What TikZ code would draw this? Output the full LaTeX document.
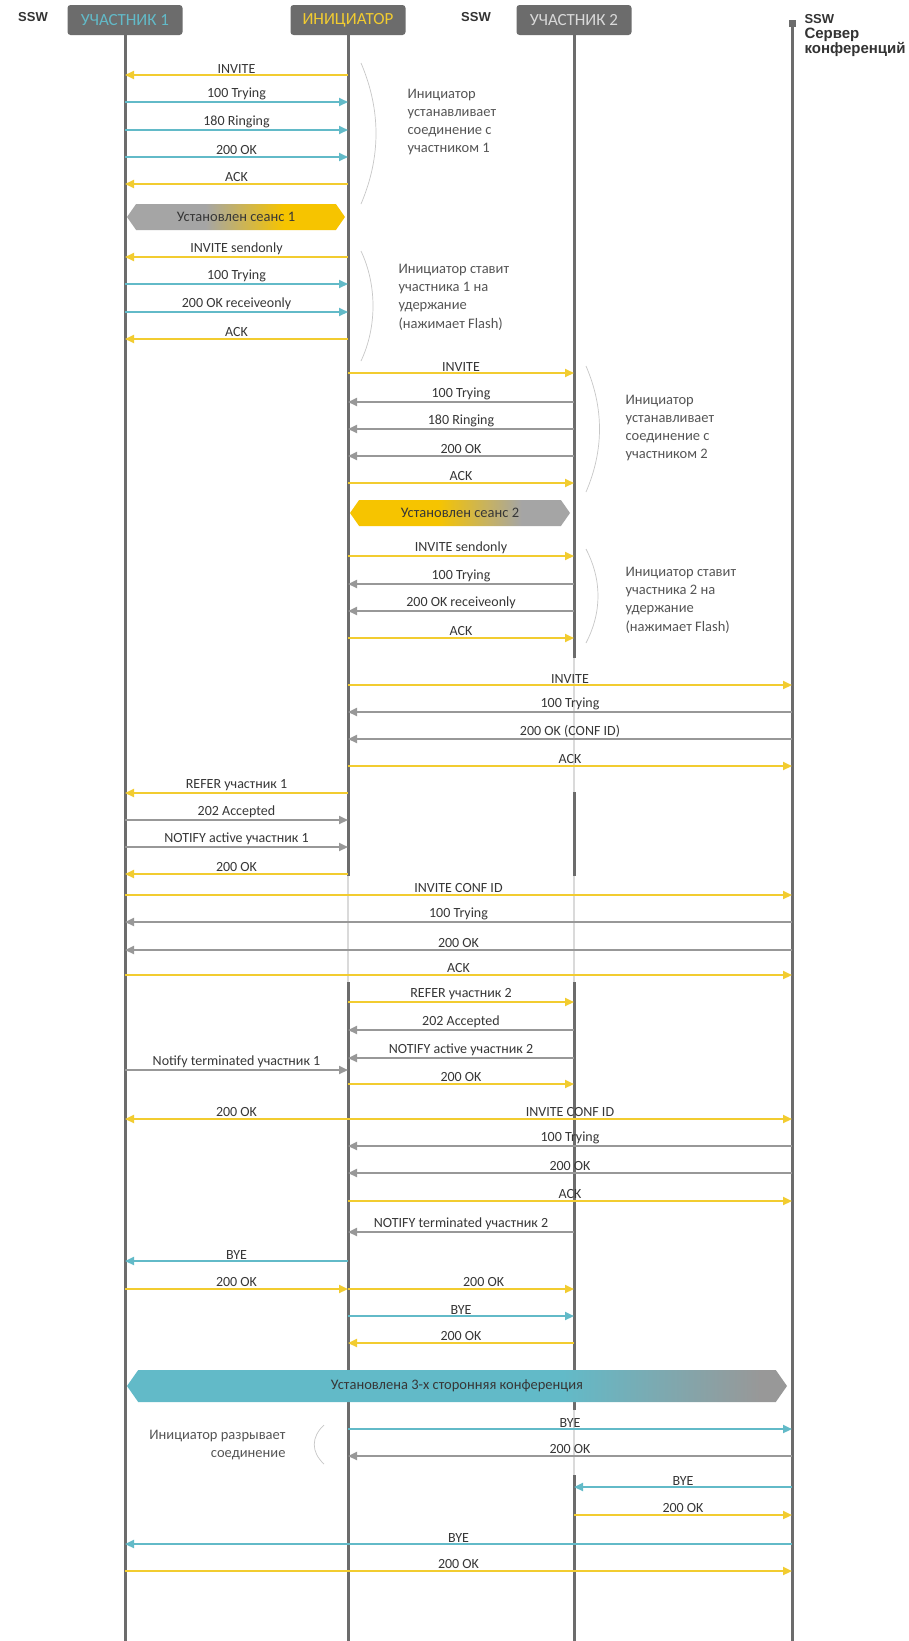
\documentclass[tikz,border=0pt]{standalone}
\usepackage{fontspec}
\setmainfont{Carlito}
\newfontfamily\sswfont{Liberation Sans}
\usetikzlibrary{arrows.meta,positioning,shapes.symbols}
\definecolor{sipyellow}{RGB}{242,204,48}
\definecolor{baryellow}{RGB}{246,196,0}
\definecolor{sipteal}{RGB}{98,186,200}
\definecolor{sipgray}{RGB}{152,152,152}
\definecolor{bargray}{RGB}{165,165,165}
\definecolor{lifegray}{RGB}{108,108,108}
\definecolor{fadegray}{RGB}{218,218,218}
\definecolor{boxgray}{RGB}{108,108,108}
\definecolor{txtgray}{RGB}{55,55,55}
\definecolor{notegray}{RGB}{85,85,85}
\pgfdeclarehorizontalshading{sesone}{100bp}{color(0bp)=(bargray); color(43bp)=(bargray); color(61bp)=(baryellow); color(100bp)=(baryellow)}
\pgfdeclarehorizontalshading{sestwo}{100bp}{color(0bp)=(baryellow); color(45bp)=(baryellow); color(64bp)=(bargray); color(100bp)=(bargray)}
\pgfdeclarehorizontalshading{confbar}{100bp}{color(0bp)=(sipteal); color(58bp)=(sipteal); color(73bp)=(sipgray); color(100bp)=(sipgray)}

\begin{document}
\begin{tikzpicture}[x=1pt,y=-1pt,
  head/.style={fill=boxgray,rounded corners=3pt,minimum width=115pt,minimum height=30pt,inner sep=0pt,font=\fontsize{17}{17}\selectfont},
  ssw/.style={text=black!80,font=\sswfont\fontsize{13}{14.5}\selectfont\bfseries},
  life/.style={lifegray,line width=3pt},
  fade/.style={fadegray,line width=2.2pt},
  msg/.style={line width=2pt,-{Triangle[length=9pt,width=8pt]}},
  msgy/.style={msg,sipyellow},
  msgt/.style={msg,sipteal},
  msgg/.style={msg,sipgray},
  lbl/.style={midway,above=0pt,inner sep=1pt,text=txtgray,font=\fontsize{14}{14}\selectfont},
  note/.style={align=left,text=notegray,font=\fontsize{14.5}{18.3}\selectfont},
  brace/.style={black!22,line width=0.7pt},
  bar/.style={shape=signal,signal to=west and east,signal pointer angle=110,minimum height=26pt,inner sep=0pt,text=txtgray,font=\fontsize{14.5}{14.5}\selectfont}]
\fill[white] (0,0) rectangle (908,1641);
\useasboundingbox (0,0) rectangle (908,1641);

% heads
\node[ssw] (ssw1) at (33,17) {SSW};
\node[ssw] (ssw2) at (476,17) {SSW};
\node[head,text=sipteal] (p1) at (125,20) {УЧАСТНИК 1};
\node[head,text=sipyellow] (init) at (348,20) {ИНИЦИАТОР};
\node[head,text=white!85!black] (p2) at (574,20) {УЧАСТНИК 2};
\node[fill=lifegray,minimum size=7pt,inner sep=0pt] (srv) at (792,23) {};
\node[ssw,align=left,anchor=north west,font=\sswfont\fontsize{13}{15}\selectfont\bfseries] (ssw3) at (801,11) {SSW\\{\fontsize{15}{15}\selectfont Сервер}\\{\fontsize{15}{15}\selectfont конференций}};

% lifelines
\draw[life] (p1.south) -- (p1 |- 0,1641);
\draw[life] (init.south) -- (init |- 0,876);
\draw[fade] (init |- 0,876) -- (init |- 0,982);
\draw[life] (init |- 0,982) -- (init |- 0,1641);
\draw[life] (p2.south) -- (p2 |- 0,658);
\draw[fade] (p2 |- 0,658) -- (p2 |- 0,792);
\draw[life] (p2 |- 0,792) -- (p2 |- 0,876);
\draw[fade] (p2 |- 0,876) -- (p2 |- 0,982);
\draw[life] (p2 |- 0,982) -- (p2 |- 0,1410);
\draw[fade] (p2 |- 0,1410) -- (p2 |- 0,1475);
\draw[life] (p2 |- 0,1475) -- (p2 |- 0,1641);
\draw[life] (srv) -- (srv |- 0,1641);

% session 1
\draw[msgy] (init |- 0,75) -- (p1 |- 0,75) node[lbl]{INVITE};
\draw[msgt] (p1 |- 0,102) -- (init |- 0,102) node[lbl]{100 Trying};
\draw[msgt] (p1 |- 0,130) -- (init |- 0,130) node[lbl]{180 Ringing};
\draw[msgt] (p1 |- 0,157) -- (init |- 0,157) node[lbl]{200 OK};
\draw[msgy] (init |- 0,184) -- (p1 |- 0,184) node[lbl]{ACK};
\draw[brace] (361,63) .. controls (381,110) and (381,157) .. (361,204);
\node[note,anchor=west] (n1) at (404,122) {Инициатор\\устанавливает\\соединение с\\участником 1};
\node[bar,shading=sesone,minimum width=218pt] (s1) at (236,217) {Установлен сеанс 1};

\draw[msgy] (init |- 0,257) -- (p1 |- 0,257) node[lbl]{INVITE sendonly};
\draw[msgt] (p1 |- 0,284) -- (init |- 0,284) node[lbl]{100 Trying};
\draw[msgt] (p1 |- 0,312) -- (init |- 0,312) node[lbl]{200 OK receiveonly};
\draw[msgy] (init |- 0,339) -- (p1 |- 0,339) node[lbl]{ACK};
\draw[brace] (361,251) .. controls (377,285) and (377,327) .. (361,361);
\node[note,anchor=west] (n2) at (395,297) {Инициатор ставит\\участника 1 на\\удержание\\(нажимает Flash)};

% session 2
\draw[msgy] (init |- 0,373) -- (p2 |- 0,373) node[lbl]{INVITE};
\draw[msgg] (p2 |- 0,402) -- (init |- 0,402) node[lbl]{100 Trying};
\draw[msgg] (p2 |- 0,429) -- (init |- 0,429) node[lbl]{180 Ringing};
\draw[msgg] (p2 |- 0,456) -- (init |- 0,456) node[lbl]{200 OK};
\draw[msgy] (init |- 0,483) -- (p2 |- 0,483) node[lbl]{ACK};
\draw[brace] (586,366) .. controls (604,408) and (604,450) .. (586,492);
\node[note,anchor=west] (n3) at (622,428) {Инициатор\\устанавливает\\соединение с\\участником 2};
\node[bar,shading=sestwo,minimum width=220pt] (s2) at (460,513) {Установлен сеанс 2};

\draw[msgy] (init |- 0,556) -- (p2 |- 0,556) node[lbl]{INVITE sendonly};
\draw[msgg] (p2 |- 0,584) -- (init |- 0,584) node[lbl]{100 Trying};
\draw[msgg] (p2 |- 0,611) -- (init |- 0,611) node[lbl]{200 OK receiveonly};
\draw[msgy] (init |- 0,638) -- (p2 |- 0,638) node[lbl]{ACK};
\draw[brace] (586,549) .. controls (602,580) and (602,612) .. (586,643);
\node[note,anchor=west] (n4) at (622,600) {Инициатор ставит\\участника 2 на\\удержание\\(нажимает Flash)};

% conference
\draw[msgy] (init |- 0,685) -- (srv |- 0,685) node[lbl]{INVITE};
\draw[msgg] (srv |- 0,712) -- (init |- 0,712) node[lbl]{100 Trying};
\draw[msgg] (srv |- 0,739) -- (init |- 0,739) node[lbl]{200 OK (CONF ID)};
\draw[msgy] (init |- 0,766) -- (srv |- 0,766) node[lbl]{ACK};

\draw[msgy] (init |- 0,793) -- (p1 |- 0,793) node[lbl]{REFER участник 1};
\draw[msgg] (p1 |- 0,820) -- (init |- 0,820) node[lbl]{202 Accepted};
\draw[msgg] (p1 |- 0,847) -- (init |- 0,847) node[lbl]{NOTIFY active участник 1};
\draw[msgy] (init |- 0,874) -- (p1 |- 0,874) node[lbl]{200 OK};
\draw[msgy] (p1 |- 0,895) -- (srv |- 0,895) node[lbl]{INVITE CONF ID};
\draw[msgg] (srv |- 0,922) -- (p1 |- 0,922) node[lbl]{100 Trying};
\draw[msgg] (srv |- 0,950) -- (p1 |- 0,950) node[lbl]{200 OK};
\draw[msgy] (p1 |- 0,975) -- (srv |- 0,975) node[lbl]{ACK};

\draw[msgy] (init |- 0,1002) -- (p2 |- 0,1002) node[lbl]{REFER участник 2};
\draw[msgg] (p2 |- 0,1030) -- (init |- 0,1030) node[lbl]{202 Accepted};
\draw[msgg] (p2 |- 0,1058) -- (init |- 0,1058) node[lbl]{NOTIFY active участник 2};
\draw[msgg] (p1 |- 0,1070) -- (init |- 0,1070) node[lbl]{Notify terminated участник 1};
\draw[msgy] (init |- 0,1084) -- (p2 |- 0,1084) node[lbl]{200 OK};
\draw[msgy] (init |- 0,1119) -- (p1 |- 0,1119) node[lbl]{200 OK};
\draw[msgy] (init |- 0,1119) -- (srv |- 0,1119) node[lbl]{INVITE CONF ID};
\draw[msgg] (srv |- 0,1146) -- (init |- 0,1146) node[lbl]{100 Trying};
\draw[msgg] (srv |- 0,1173) -- (init |- 0,1173) node[lbl]{200 OK};
\draw[msgy] (init |- 0,1201) -- (srv |- 0,1201) node[lbl]{ACK};
\draw[msgg] (p2 |- 0,1232) -- (init |- 0,1232) node[lbl]{NOTIFY terminated участник 2};

\draw[msgt] (init |- 0,1261) -- (p1 |- 0,1261) node[lbl]{BYE};
\draw[msgy] (p1 |- 0,1289) -- (init |- 0,1289) node[lbl]{200 OK};
\draw[msgy] (init |- 0,1289) -- (p2 |- 0,1289) node[lbl,pos=0.6]{200 OK};
\draw[msgt] (init |- 0,1316) -- (p2 |- 0,1316) node[lbl]{BYE};
\draw[msgy] (p2 |- 0,1343) -- (init |- 0,1343) node[lbl]{200 OK};
\node[bar,shading=confbar,minimum width=660pt,minimum height=32pt] (s3) at (457,1386) {Установлена 3-х сторонняя конференция};

% release
\draw[msgt] (init |- 0,1429) -- (srv |- 0,1429) node[lbl]{BYE};
\draw[msgg] (srv |- 0,1456) -- (init |- 0,1456) node[lbl]{200 OK};
\draw[brace] (324,1425) .. controls (311,1437) and (311,1452) .. (324,1464);
\node[note,align=right,anchor=east] (n5) at (289,1445) {Инициатор разрывает\\соединение};
\draw[msgt] (srv |- 0,1487) -- (p2 |- 0,1487) node[lbl]{BYE};
\draw[msgy] (p2 |- 0,1515) -- (srv |- 0,1515) node[lbl]{200 OK};
\draw[msgt] (srv |- 0,1544) -- (p1 |- 0,1544) node[lbl]{BYE};
\draw[msgy] (p1 |- 0,1571) -- (srv |- 0,1571) node[lbl]{200 OK};
\end{tikzpicture}
\end{document}
